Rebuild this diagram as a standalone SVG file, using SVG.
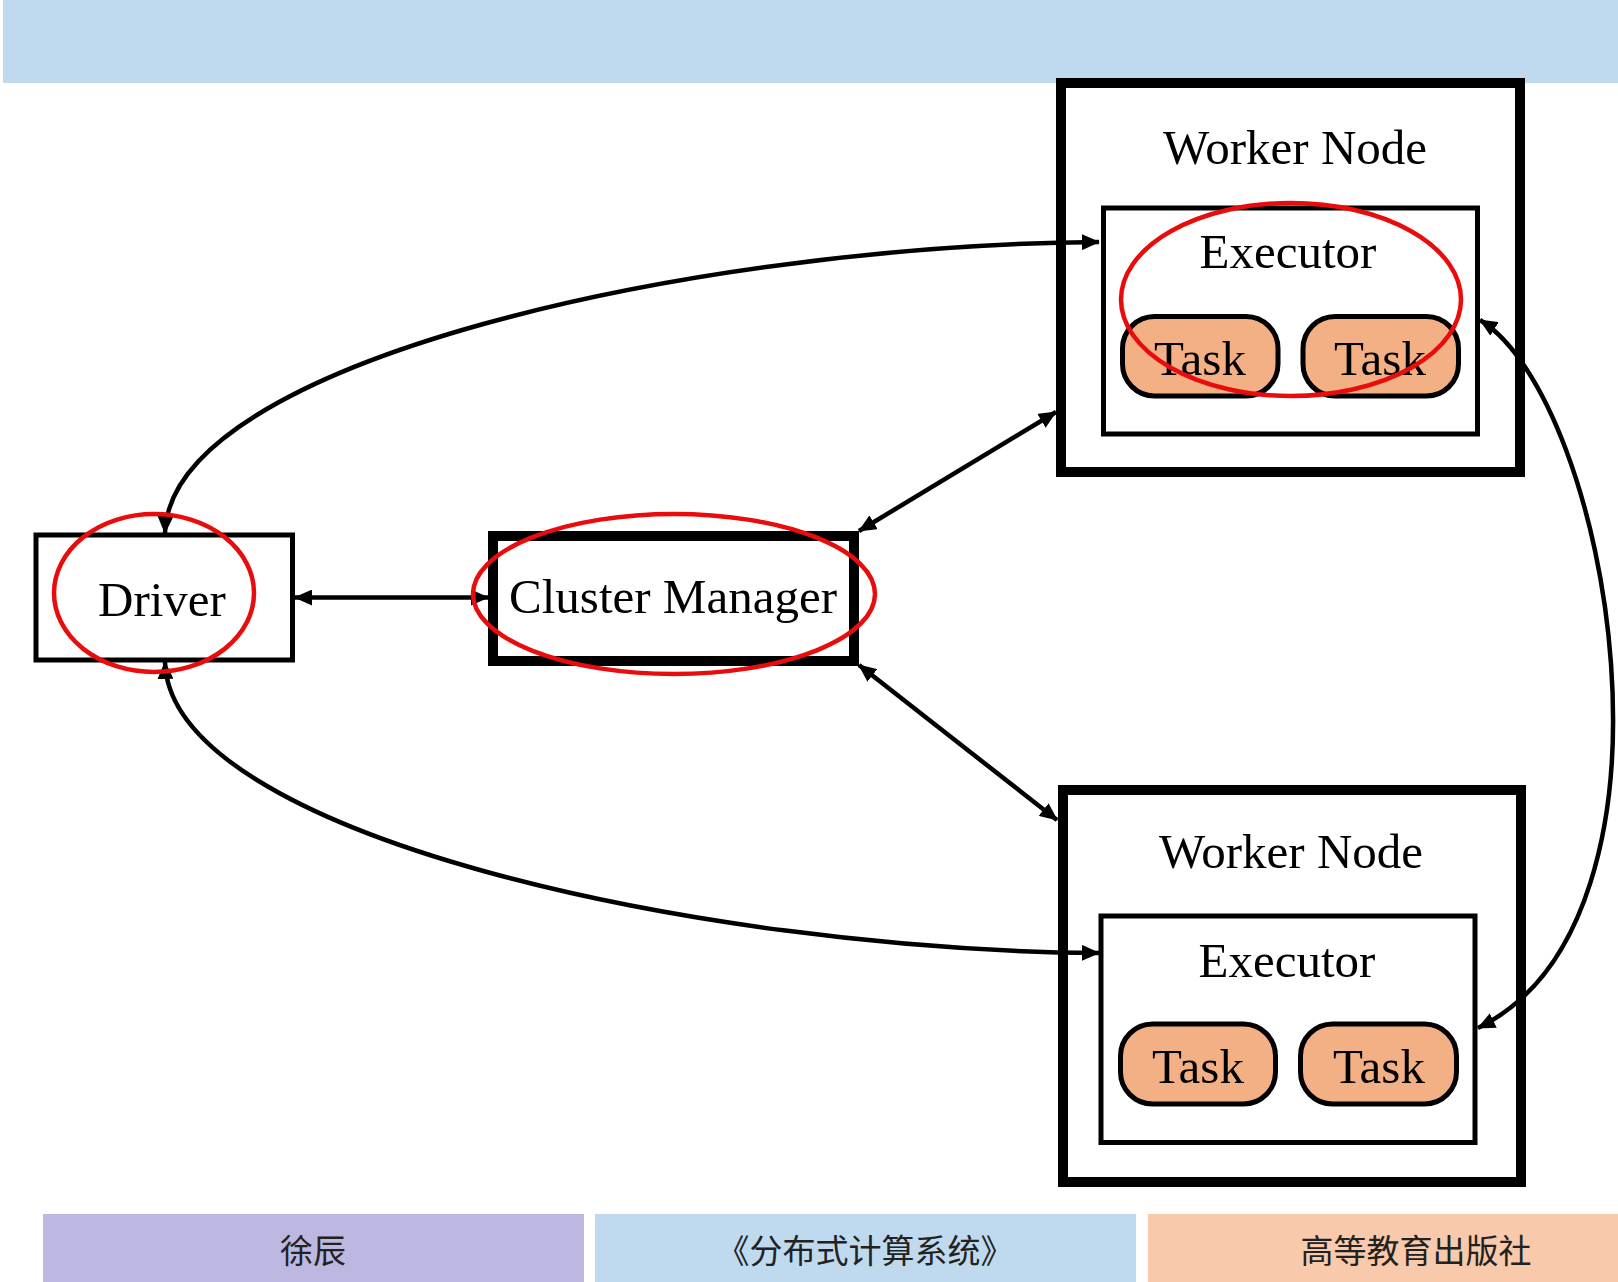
<svg xmlns="http://www.w3.org/2000/svg" width="1618" height="1282" viewBox="0 0 1618 1282">
<defs>
<style>
.lbl{font-family:"Liberation Serif","Times New Roman",serif;font-size:49px;fill:#000;text-anchor:middle}
.foot{font-family:"Noto Sans CJK SC",sans-serif;font-size:33px;fill:#222;text-anchor:middle}
.outer{fill:#fff;stroke:#000;stroke-width:10}
.inner{fill:#fff;stroke:#000;stroke-width:5}
.task{fill:#F3B084;stroke:#000;stroke-width:5}
.hl{fill:none;stroke:#E80C0C;stroke-width:4.5}
.conn{fill:none;stroke:#000;stroke-width:4.5;marker-start:url(#ah);marker-end:url(#ah)}
</style>
<marker id="ah" markerUnits="userSpaceOnUse" markerWidth="18" markerHeight="16" refX="17" refY="8" orient="auto-start-reverse">
<path d="M0,0 L18,8 L0,16 z" fill="#000"/>
</marker>
</defs>
<rect x="3" y="0" width="1615" height="83" fill="#BFDAEE"/>
<g id="worker1">
<rect class="outer" x="1061" y="83" width="459" height="389"/>
<text class="lbl" x="1295" y="164">Worker Node</text>
</g>
<g id="executor1">
<rect class="inner" x="1103.5" y="208" width="374" height="226"/>
<text class="lbl" x="1288" y="268">Executor</text>
</g>
<g id="task1a">
<rect class="task" x="1122.5" y="316.5" width="155.5" height="79.5" rx="32"/>
<text class="lbl" x="1200" y="375">Task</text>
</g>
<g id="task1b">
<rect class="task" x="1303" y="316.5" width="155.5" height="79.5" rx="32"/>
<text class="lbl" x="1380" y="375">Task</text>
</g>
<g id="worker2">
<rect class="outer" x="1063" y="790" width="458" height="392"/>
<text class="lbl" x="1291" y="868">Worker Node</text>
</g>
<g id="executor2">
<rect class="inner" x="1101" y="916" width="374" height="226.5"/>
<text class="lbl" x="1287" y="977">Executor</text>
</g>
<g id="task2a">
<rect class="task" x="1120.5" y="1024" width="155" height="80" rx="32"/>
<text class="lbl" x="1198" y="1083">Task</text>
</g>
<g id="task2b">
<rect class="task" x="1300.5" y="1024" width="156" height="80" rx="32"/>
<text class="lbl" x="1379" y="1083">Task</text>
</g>
<g id="driver">
<rect class="inner" x="36" y="535" width="256.5" height="125"/>
<text class="lbl" x="162" y="616">Driver</text>
</g>
<g id="cluster-manager">
<rect class="outer" x="493" y="536" width="361" height="125"/>
<text class="lbl" x="673" y="613">Cluster Manager</text>
</g>
<g id="connectors">
<path class="conn" d="M295 597.5 L488 597.5"/>
<path class="conn" d="M859 531 L1056 412"/>
<path class="conn" d="M859 665 L1057 820"/>
<path class="conn" d="M165 533 C170 360 700 245 1099 242"/>
<path class="conn" d="M165 662 C170 835 700 950 1099 953"/>
<path class="conn" d="M1480 320 C1610 400 1700 920 1478 1028"/>
</g>
<g id="highlights">
<ellipse class="hl" cx="154" cy="593" rx="100" ry="79"/>
<ellipse class="hl" cx="674" cy="594" rx="201" ry="80"/>
<ellipse class="hl" cx="1291" cy="299.5" rx="170" ry="96.5"/>
</g>
<g id="footer">
<rect x="43" y="1214" width="541" height="68" fill="#BDB8E1"/>
<rect x="595" y="1214" width="541" height="68" fill="#BFDAEE"/>
<rect x="1148" y="1214" width="470" height="68" fill="#F9C9AC"/>
<text class="foot" x="313" y="1263">徐辰</text>
<text class="foot" x="865" y="1263">《分布式计算系统》</text>
<text class="foot" x="1416" y="1263">高等教育出版社</text>
</g>
</svg>
